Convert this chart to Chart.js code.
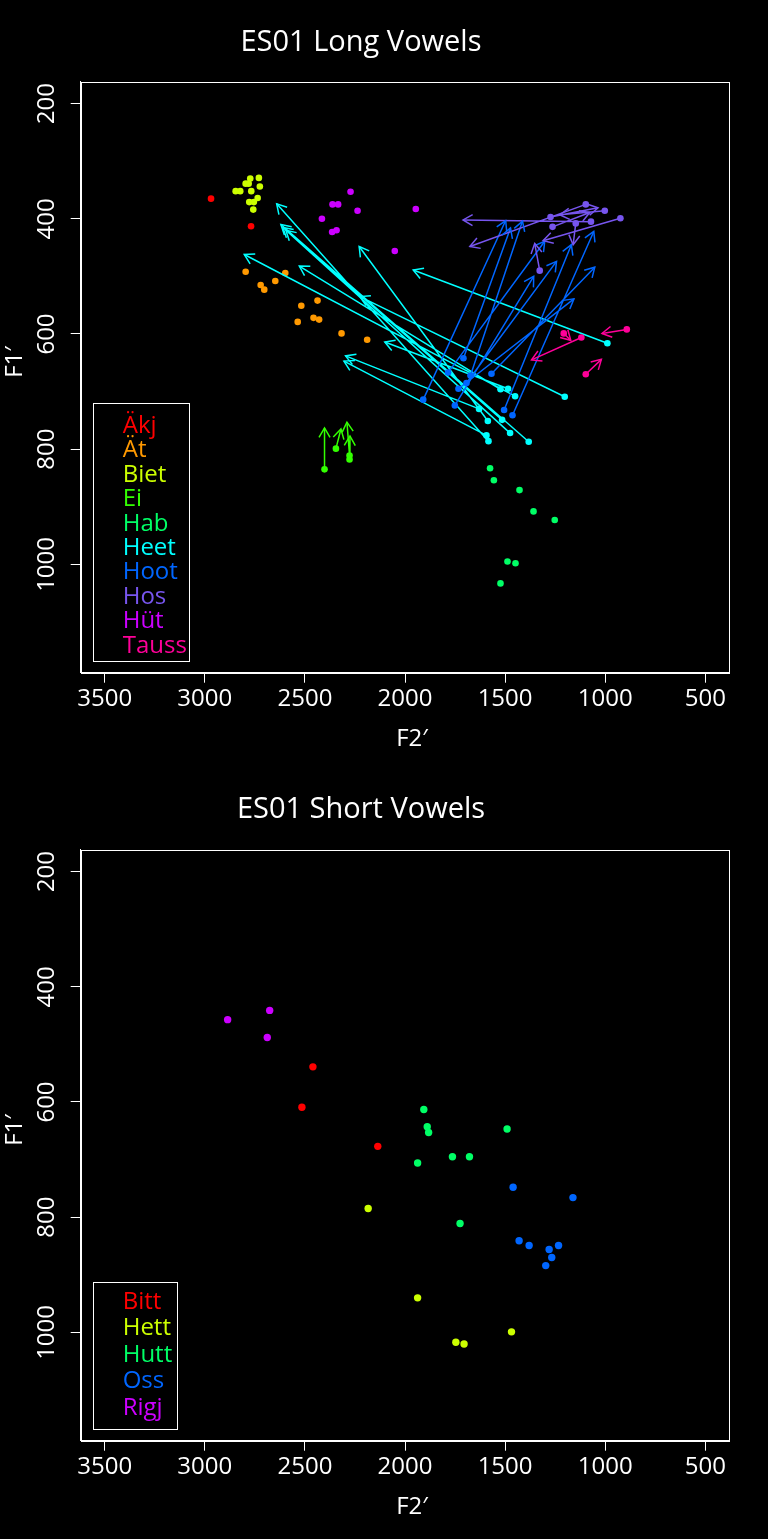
<!DOCTYPE html>
<html>
<head>
<meta charset="utf-8">
<title>ES01 Vowels</title>
<script src="https://cdn.jsdelivr.net/npm/chart.js@4.4.1/dist/chart.umd.min.js"></script>
<style>
  html, body { margin: 0; padding: 0; background: #000; }
  canvas { display: block; background: #000; }
</style>
</head>
<body>
<canvas id="longChart" width="768" height="768"></canvas>
<canvas id="shortChart" width="768" height="771"></canvas>
<script>
// axis ticks (F2' runs high to low, F1' runs top to bottom)
const f2Ticks = [3500, 3000, 2500, 2000, 1500, 1000, 500];
const f1Ticks = [200, 400, 600, 800, 1000];

// ---- long vowels ----
const longNames = ['Äkj', 'Ät', 'Biet', 'Ei', 'Hab', 'Heet', 'Hoot', 'Hos', 'Hüt', 'Tauss'];
const longColors = ['#FF0000', '#FF9900', '#CCFF00', '#33FF00', '#00FF66', '#00FFFF', '#0066FF', '#7755EE', '#CC00FF', '#FF0099'];

const akjF2 = [2969, 2769];
const akjF1 = [365, 413];

const atF2 = [2796, 2598, 2721, 2703, 2648, 2518, 2437, 2536, 2457, 2429, 2317, 2189];
const atF1 = [492, 494, 515, 523, 508, 551, 542, 579, 572, 575, 599, 610];

const bietF2 = [2773, 2730, 2796, 2781, 2725, 2846, 2823, 2768, 2736, 2778, 2755, 2758];
const bietF1 = [330, 329, 339, 339, 344, 352, 352, 352, 364, 371, 371, 384];

// Ei: onset -> offset
const eiF2 = [2402, 2345, 2277, 2277];
const eiF1 = [835, 799, 811, 818];
const eiF2End = [2402, 2320, 2290, 2275];
const eiF1End = [763, 765, 753, 777];

const habF2 = [1575, 1556, 1428, 1358, 1252, 1488, 1448, 1523];
const habF1 = [833, 854, 871, 908, 923, 995, 998, 1033];

const heetF2 = [989, 1593, 1630, 1583, 1202, 1450, 1523, 1485, 1586, 1382, 1475, 1515];
const heetF1 = [616, 776, 730, 786, 709, 708, 696, 695, 751, 787, 772, 749];
const heetF2End = [1959, 2305, 2297, 2641, 2225, 2803, 2528, 2101, 2229, 2620, 2595, 2610];
const heetF1End = [489, 647, 638, 374, 535, 462, 482, 614, 448, 410, 420, 415];

const hootF2 = [1909, 1708, 1751, 1785, 1693, 1733, 1568, 1505, 1463, 1673];
const hootF1 = [714, 642, 724, 667, 685, 695, 669, 732, 741, 672];
const hootF2End = [1497, 1473, 1357, 1302, 1243, 1156, 1052, 1169, 1057, 1413];
const hootF1End = [403, 416, 500, 439, 474, 539, 484, 445, 422, 404];

const hosF2 = [1071, 1097, 1327, 1147, 924, 1273, 1002, 1263];
const hosF1 = [405, 375, 490, 408, 399, 397, 386, 414];
const hosF2End = [1710, 1676, 1352, 1160, 1310, 1036, 1227, 1077];
const hosF1End = [402, 448, 443, 445, 438, 381, 393, 389];

const hutF2 = [2272, 2362, 2334, 2237, 2415, 2364, 2342, 1946, 2051];
const hutF1 = [353, 375, 375, 386, 400, 423, 420, 383, 456];

const taussF2 = [892, 1119, 1097, 1207];
const taussF1 = [592, 606, 670, 599];
const taussF2End = [1016, 1368, 1019, 1172];
const taussF1End = [599, 645, 644, 611];

// ---- short vowels ----
const shortNames = ['Bitt', 'Hett', 'Hutt', 'Oss', 'Rigj'];
const shortColors = ['#FF0000', '#CCFF00', '#00FF66', '#0066FF', '#CC00FF'];

const bittF2 = [2460, 2515, 2136];
const bittF1 = [539, 609, 677];
const hettF2 = [2184, 1937, 1468, 1746, 1705];
const hettF1 = [785, 940, 999, 1017, 1020];
const huttF2 = [1906, 1889, 1882, 1490, 1763, 1678, 1937, 1725];
const huttF1 = [613, 643, 653, 647, 695, 695, 706, 811];
const ossF2 = [1460, 1161, 1430, 1380, 1280, 1233, 1267, 1297];
const ossF1 = [748, 766, 841, 849, 856, 849, 870, 884];
const rigjF2 = [2886, 2676, 2688];
const rigjF1 = [457, 441, 488];

const FONT = '"Open Sans", "DejaVu Sans", sans-serif';

function pts(xs, ys) {
    return xs.map((x, i) => ({ x: x, y: ys[i] }));
}

// start, end, gap for every trajectory so one line dataset holds them all
function segs(x0, y0, x1, y1) {
    const out = [];
    x0.forEach((x, i) => {
        out.push({ x: x, y: y0[i] }, { x: x1[i], y: y1[i] }, { x: null, y: null });
    });
    return out;
}

function dots(color, data, r) {
    return { data: data, backgroundColor: color, borderColor: color, pointRadius: r, borderWidth: 0, showLine: false };
}

function arrows(color, data) {
    return { data: data, borderColor: color, backgroundColor: color, borderWidth: 1.5, pointRadius: 0, showLine: true, spanGaps: false, arrowHeads: true };
}

// arrow heads, frame, legend box and the titles
const decorPlugin = {
    id: 'decor',
    afterDatasetsDraw(chart) {
        const ctx = chart.ctx;
        const xs = chart.scales.x, ys = chart.scales.y;
        ctx.save();
        chart.data.datasets.forEach(ds => {
            if (!ds.arrowHeads) return;
            ctx.strokeStyle = ds.borderColor;
            ctx.lineWidth = 1.5;
            for (let i = 0; i + 1 < ds.data.length; i += 3) {
                const a = ds.data[i], b = ds.data[i + 1];
                const x0 = xs.getPixelForValue(a.x), y0 = ys.getPixelForValue(a.y);
                const x1 = xs.getPixelForValue(b.x), y1 = ys.getPixelForValue(b.y);
                const ang = Math.atan2(y1 - y0, x1 - x0);
                const len = 11, spread = Math.PI / 6;
                ctx.beginPath();
                ctx.moveTo(x1 - len * Math.cos(ang - spread), y1 - len * Math.sin(ang - spread));
                ctx.lineTo(x1, y1);
                ctx.lineTo(x1 - len * Math.cos(ang + spread), y1 - len * Math.sin(ang + spread));
                ctx.stroke();
            }
        });
        ctx.restore();
    },
    afterDraw(chart, args, opts) {
        const ctx = chart.ctx;
        const area = chart.chartArea;
        ctx.save();
        ctx.strokeStyle = '#FFFFFF';
        ctx.lineWidth = 1;
        ctx.strokeRect(Math.round(area.left) + 0.5, Math.round(area.top) + 0.5,
            Math.round(area.right - area.left) - 1, Math.round(area.bottom - area.top));

        // legend
        const lg = opts.legend;
        ctx.strokeRect(Math.round(lg.left) + 0.5, Math.round(lg.top) + 0.5,
            Math.round(lg.right - lg.left), Math.round(lg.bottom - lg.top));
        ctx.font = '24px ' + FONT;
        ctx.textAlign = 'left';
        ctx.textBaseline = 'middle';
        opts.names.forEach((name, i) => {
            ctx.fillStyle = opts.colors[i];
            ctx.fillText(name, lg.textX, lg.firstY + i * lg.step);
        });

        // titles
        ctx.fillStyle = '#FFFFFF';
        ctx.textAlign = 'center';
        ctx.font = '29px ' + FONT;
        ctx.fillText(opts.title, 361, opts.titleY);
        ctx.font = '24px ' + FONT;
        ctx.fillText('F2\u2032', 412, 739);
        ctx.translate(15, 362);
        ctx.rotate(-Math.PI / 2);
        ctx.fillText('F1\u2032', 0, 0);
        ctx.restore();
    }
};

function makeChart(id, height, datasets, decor) {
    // later datasets are drawn on top
    datasets.forEach((ds, i) => { ds.order = 100 - i; });
    return new Chart(document.getElementById(id), {
        type: 'scatter',
        data: { datasets: datasets },
        options: {
            responsive: false,
            animation: false,
            devicePixelRatio: 1,
            events: [],
            layout: { padding: { left: 0, top: 81.7, right: 38.7, bottom: 0 } },
            scales: {
                x: {
                    type: 'linear', reverse: true, min: 380, max: 3620,
                    afterBuildTicks: s => { s.ticks = f2Ticks.map(v => ({ value: v })); },
                    afterFit: s => { s.height = height - 672.7; },
                    ticks: {
                        color: '#FFFFFF', font: { family: FONT, size: 24 }, padding: 2,
                        autoSkip: false, maxRotation: 0, minRotation: 0,
                        callback: v => String(v)
                    },
                    grid: { drawOnChartArea: false, drawTicks: true, tickLength: 10, color: '#FFFFFF', lineWidth: 1 },
                    border: { display: true, color: '#FFFFFF', width: 1 }
                },
                y: {
                    type: 'linear', reverse: true, min: 162, max: 1188,
                    afterBuildTicks: s => { s.ticks = f1Ticks.map(v => ({ value: v })); },
                    afterFit: s => { s.width = 80.7; },
                    ticks: {
                        color: '#FFFFFF', font: { family: FONT, size: 24 }, padding: -4,
                        autoSkip: false, minRotation: 90, maxRotation: 90, crossAlign: 'center',
                        callback: v => String(v)
                    },
                    grid: { drawOnChartArea: false, drawTicks: true, tickLength: 10, color: '#FFFFFF', lineWidth: 1 },
                    border: { display: true, color: '#FFFFFF', width: 1 }
                }
            },
            plugins: {
                legend: { display: false },
                tooltip: { enabled: false },
                decor: decor
            }
        },
        plugins: [decorPlugin]
    });
}

const longSets = [
    dots(longColors[0], pts(akjF2, akjF1), 3.3),
    dots(longColors[1], pts(atF2, atF1), 3.3),
    dots(longColors[2], pts(bietF2, bietF1), 3.3),
    dots(longColors[3], pts(eiF2, eiF1), 3.3),
    arrows(longColors[3], segs(eiF2, eiF1, eiF2End, eiF1End)),
    dots(longColors[4], pts(habF2, habF1), 3.3),
    dots(longColors[5], pts(heetF2, heetF1), 3.3),
    arrows(longColors[5], segs(heetF2, heetF1, heetF2End, heetF1End)),
    dots(longColors[6], pts(hootF2, hootF1), 3.3),
    arrows(longColors[6], segs(hootF2, hootF1, hootF2End, hootF1End)),
    dots(longColors[7], pts(hosF2, hosF1), 3.3),
    arrows(longColors[7], segs(hosF2, hosF1, hosF2End, hosF1End)),
    dots(longColors[8], pts(hutF2, hutF1), 3.3),
    dots(longColors[9], pts(taussF2, taussF1), 3.3),
    arrows(longColors[9], segs(taussF2, taussF1, taussF2End, taussF1End))
];

const shortSets = [
    dots(shortColors[0], pts(bittF2, bittF1), 3.7),
    dots(shortColors[1], pts(hettF2, hettF1), 3.7),
    dots(shortColors[2], pts(huttF2, huttF1), 3.7),
    dots(shortColors[3], pts(ossF2, ossF1), 3.7),
    dots(shortColors[4], pts(rigjF2, rigjF1), 3.7)
];

makeChart('longChart', 768, longSets, {
    title: 'ES01 Long Vowels', titleY: 43,
    names: longNames, colors: longColors,
    legend: { left: 93.3, top: 403.3, right: 189, bottom: 661.3, textX: 122.7, firstY: 426, step: 24.44 }
});

makeChart('shortChart', 771, shortSets, {
    title: 'ES01 Short Vowels', titleY: 42,
    names: shortNames, colors: shortColors,
    legend: { left: 93.3, top: 513.7, right: 177.3, bottom: 661, textX: 122.7, firstY: 533.7, step: 26.5 }
});
</script>
</body>
</html>
